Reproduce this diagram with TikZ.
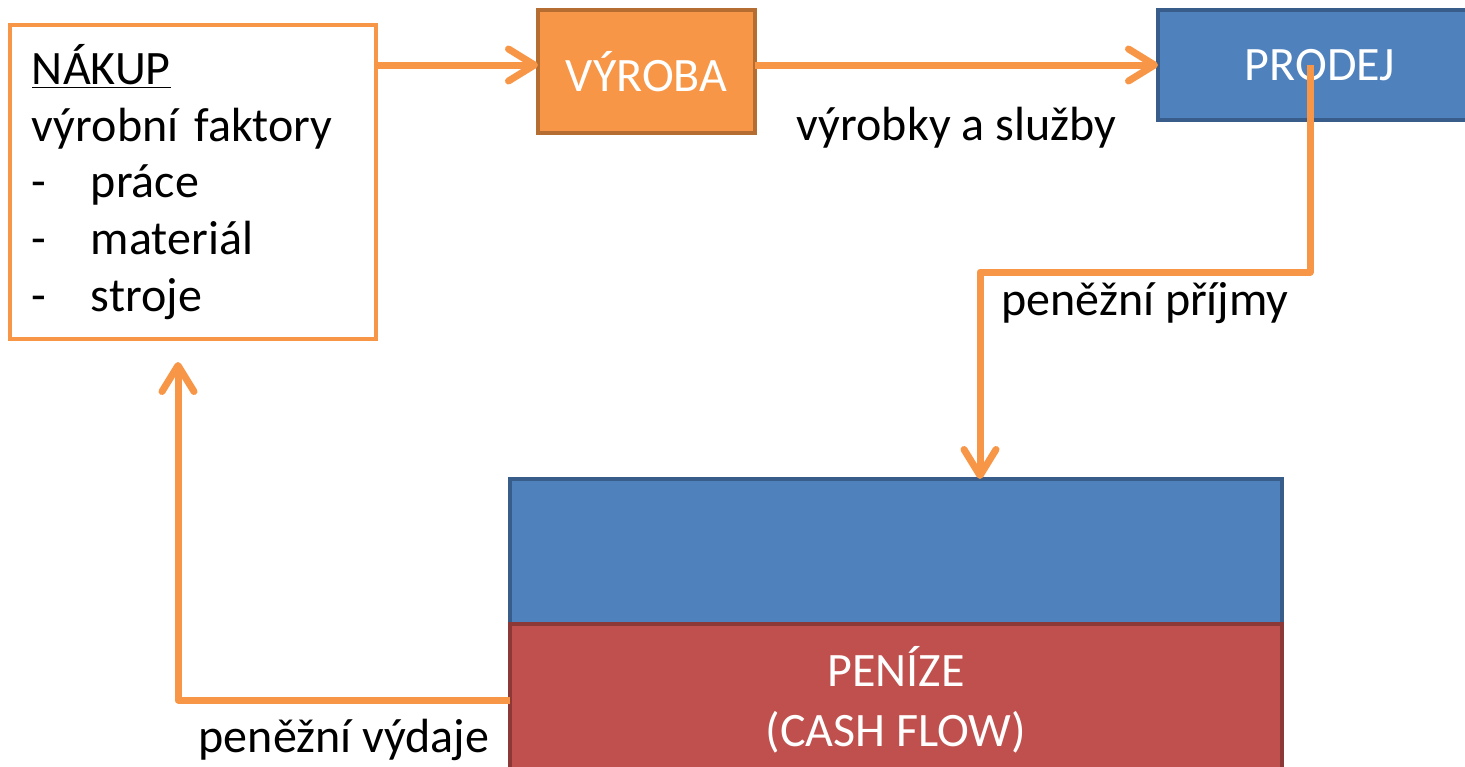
\documentclass[tikz,border=0pt]{standalone}
\usepackage{fontspec}
\setmainfont{Carlito}
\usetikzlibrary{arrows.meta,positioning}

\definecolor{orangefill}{HTML}{F79646}
\definecolor{orangeline}{HTML}{B66D31}
\definecolor{bluefill}{HTML}{4F81BD}
\definecolor{blueline}{HTML}{385D8A}
\definecolor{redfill}{HTML}{C0504D}
\definecolor{redline}{HTML}{8C3836}

\begin{document}
\begin{tikzpicture}[
  x=0.5pt, y=-0.5pt,
  every node/.style = {font=\fontsize{24}{28.3}\selectfont, inner sep=0pt, outer sep=0pt},
  box/.style = {draw, line width=2.3pt},
  flow/.style = {draw=orangefill, line width=3.5pt, line join=round,
    -{Straight Barb[length=13pt, width=16pt, line cap=round, line join=round]}}
]
  \useasboundingbox (0,0) rectangle (1465,766);

  \node[box, draw=orangefill, fill=white, minimum width=183pt, minimum height=157pt,
        inner xsep=11pt, text width=161pt, align=left] (nakup) at (193,182)
    {\underline{NÁKUP}\\
     výrobní faktory\\
     \makebox[29.5pt][l]{-}práce\\
     \makebox[29.5pt][l]{-}materiál\\
     \makebox[29.5pt][l]{-}stroje};
  \node[box, draw=orangeline, fill=orangefill, text=white,
        minimum width=108.5pt, minimum height=61.5pt] (vyroba) at (646.5,71.5) {VÝROBA};
  \node[box, draw=blueline, fill=bluefill, text=white,
        minimum width=162pt, minimum height=55pt] (prodej) at (1320,65) {PRODEJ};
  \node[box, draw=blueline, fill=bluefill,
        minimum width=386pt, minimum height=72.5pt] (stock) at (896,551.5) {};
  \node[box, draw=redline, fill=redfill, text=white, align=center,
        font=\fontsize{24}{30}\selectfont,
        minimum width=386pt, minimum height=76pt, below=0pt of stock] (cash)
    {PENÍZE\\(CASH FLOW)};

  \coordinate (inbend) at (980,272);
  \coordinate (outtip) at (178,362);

  \draw[flow] (nakup.east |- prodej.west) -- (vyroba.west |- prodej.west);
  \draw[flow] (vyroba.east |- prodej.west) -- node[below=21pt] {výrobky a služby} (prodej.west);
  \draw[flow] ([xshift=-5pt]prodej.center) |- node[pos=0.75, below=5pt] {peněžní příjmy} (inbend)
    -- (inbend |- stock.north);
  \draw[flow] (cash.west) -| node[pos=0.25, below=9.5pt] {peněžní výdaje} (outtip);
\end{tikzpicture}
\end{document}
